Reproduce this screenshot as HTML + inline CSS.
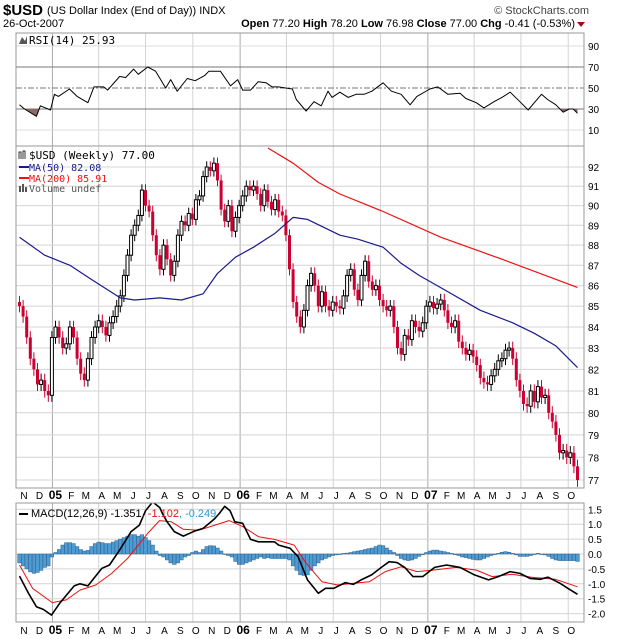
<!DOCTYPE html>
<html><head><meta charset="utf-8"><style>
html,body{margin:0;padding:0;background:#fff;}
svg{display:block;font-family:"Liberation Sans",sans-serif;}
</style></head><body>
<svg id="chart" width="620" height="639" xmlns="http://www.w3.org/2000/svg">
<rect width="620" height="639" fill="#fff"/>
<g>
<text x="3" y="15" font-size="15" font-weight="bold">$USD</text>
<text x="47" y="14" font-size="11">(US Dollar Index (End of Day)) INDX</text>
<text x="3" y="27" font-size="11">26-Oct-2007</text>
<text x="575" y="27" font-size="11" text-anchor="end"><tspan font-weight="bold">Open</tspan> 77.20 <tspan font-weight="bold">High</tspan> 78.20 <tspan font-weight="bold">Low</tspan> 76.98 <tspan font-weight="bold">Close</tspan> 77.00 <tspan font-weight="bold">Chg</tspan> -0.41 (-0.53%)</text>
<path d="M577 22 L585 22 L581 27 Z" fill="#b00020"/>
<text x="589" y="14" font-size="11" text-anchor="end" fill="#444">© StockCharts.com</text>
</g>
<g id="rsi"></g>
<g id="main"></g>
<g id="macd"></g>
</svg>
<script>
// ---- data ----
const closes = [85,84.5,83.5,82.5,82,81.3,81.5,81,80.8,
83.5,84,83.5,83, 83.2,84,83.5,82.5, 81.8,81.5,82.5,83.5,84, 84.3,84,83.6,84.2, 84.5,85,85.5,86.5,
87.5,88.5,89,89.5,90.8, 90,89.7,88.5,87.5, 86.8,88,87.3,86.5, 87.2,88.5,89.2,89,89.6,
89.3,90.3,90.5,91.5, 92,91.8,92.2,91.3, 89.8,89.2,90,88.7,89.4,
90,90.5,91,90.8, 91,90.6,90,90.8, 90.2,89.8,90.3,89.7,89.5, 88.5,86.8,85.2,84.5, 84,84.8,86,86.6,
86,85,85.7,85, 84.8,85.2,85,84.9,85.5, 86.5,86.8,85.8,85.3, 86.5,87.2,86.2,85.8, 86,85.3,85,84.8,85,
84,83,82.7,83.6, 83.4,84.3,84,83.8,84.2,
85,85.2,84.9,85.1, 85.3,84.8,84.2,84, 84.3,83.3,83,82.7,82.9, 82.6,82.2,81.6,81.4, 81.3,81.7,82,82.4,
82.5,82.9,83,82.5,81.5, 81,80.4,80.3,81, 80.5,81.2,80.7,80.8, 80,79.6,79,78.2, 78.3,78,78.2,77.6,77.0];
const firstOpen = 85.2;
const ma50Weeks = [0,7,14,20,28,32,39,45,51,55,60,65,71,76,80,89,94,101,106,111,117,128,137,143,149,155];
const ma50Values = [88.4,87.5,87.0,86.3,85.4,85.3,85.4,85.3,85.6,86.6,87.4,87.9,88.6,89.4,89.3,88.5,88.3,87.9,87.1,86.5,85.9,84.8,84.2,83.7,83.1,82.08];
const ma200Weeks = [69,76,83,89,101,117,134,155];
const ma200Values = [93.0,92.2,91.2,90.6,89.7,88.4,87.3,85.91];
const rsiWeeks = [0,1.4,4.7,5.8,8.6,9.7,10.8,13.9,16,19,20.7,23.4,24.5,27.8,29.5,31.7,33,35.6,37.8,40.6,42,43.8,46.6,48.8,51.5,52.6,55.8,58.6,60.6,62,64.2,66.3,68.5,70.2,71.9,75.8,76.9,79.6,81.8,83.8,85.7,86.8,89,91.3,93.5,95.7,97.9,101,103.3,106,108.5,110.4,114,116.2,119,122.4,124,126.9,129,131.8,134,136.3,139,141.3,143,145,146.7,149,151,152.7,153.8,155];
const rsiValues = [34,30,23,33,29,44,42,49,42,36,51,51,48,61,60,68,63,70,66,50,58,47,59,57,62,66,66,52,58,48,48,56,55,51,51,49,39,28,37,33,47,41,46,41,44,44,47,55,47,44,34,42,49,51,44,45,40,36,31,37,41,46,37,29,36,44,39,34,27,30,30,25.93];
const macdWeeks = [0,2.5,4.7,6.6,8.9,11.3,15.2,16.8,19,22.9,25,27.8,31,33.3,35,37,39,39.7,41,43,45.5,48.8,51,54,55.5,57,58.5,59.8,62,64.2,66.4,70.8,72,75.2,77.4,80,83,85,87.3,90.5,92.7,94.9,97.8,100.5,102.7,104.9,107,109.3,112,115.3,118.6,122.4,126.4,130.3,133,136.3,139,141.8,144.6,146.8,150.1,152.3,155];
const macdValues = [-0.74,-1.32,-1.77,-1.86,-2.05,-1.63,-1.07,-1.0,-1.07,-0.48,-0.37,0.13,0.75,0.97,1.45,1.75,1.55,1.36,1.08,0.75,0.6,0.78,0.86,1.16,1.36,1.6,1.45,1.08,1.03,0.49,0.41,0.41,0.30,0.19,-0.09,-0.87,-1.32,-1.15,-1.15,-0.96,-1.02,-0.87,-0.7,-0.45,-0.26,-0.29,-0.45,-0.76,-0.76,-0.45,-0.37,-0.45,-0.7,-0.87,-0.76,-0.59,-0.65,-0.82,-0.85,-0.78,-0.98,-1.15,-1.351];
const signalWeeks = [0,3.6,9.1,13,16.8,21.2,25.6,30,35.6,38.9,42.2,45.5,49.9,54.3,58.2,62,66.4,70.8,76.3,79.6,84,88.4,92.8,97.2,101.6,106,110.4,114.8,121.3,126.9,131.3,136.8,142.3,148.9,155];
const signalValues = [-0.37,-1.15,-1.63,-1.54,-1.21,-1.04,-0.65,-0.15,0.69,1.12,1.08,0.83,0.8,0.97,1.12,0.92,0.58,0.49,0.3,-0.31,-0.93,-1.04,-0.98,-0.93,-0.59,-0.43,-0.59,-0.54,-0.45,-0.54,-0.76,-0.68,-0.78,-0.85,-1.102];
const histValues = [-0.3,-0.4,-0.5,-0.6,-0.65,-0.62,-0.55,-0.45,-0.4,-0.1,
0.05,0.15,0.3,0.38, 0.38,0.35,0.25,0.15,0.1, 0.12,0.25,0.35,0.4,0.38, 0.35,0.35,0.4,0.45, 0.5,0.55,0.6,0.65,
0.65,0.6,0.65,0.55, 0.45,0.3,0.1, -0.05,-0.1,-0.2,-0.3,-0.35, -0.3,-0.2,-0.1,-0.05, 0.05,0.1,0.05,
0.15,0.25,0.28,0.27,0.2, 0.1,0.0,-0.05,-0.1, -0.25,-0.35,-0.35,-0.3,-0.25, -0.2,-0.15,-0.1,-0.15,-0.12,
-0.15,-0.15,-0.15,-0.15,-0.15, -0.2,-0.4,-0.55,-0.7, -0.72,-0.7,-0.55,-0.4, -0.3,-0.2,-0.15,-0.1,-0.05,
-0.03,0.0,0.02,0.03, 0.05,0.08,0.1,0.12,0.15, 0.18,0.2,0.25,0.3, 0.28,0.2,0.12,0.05, -0.05,-0.15,-0.2,-0.22,
-0.2,-0.15,-0.08,-0.02, 0.05,0.1,0.13,0.13,0.1, 0.08,0.05,0.02,-0.02, -0.05,-0.1,-0.12,-0.15,
-0.18,-0.2,-0.2,-0.15, -0.1,-0.05,-0.02,0.02, 0.06,0.08,0.06,0.02,-0.03, -0.08,-0.08,-0.08,-0.05,
0.0,0.02,0.0,-0.03, -0.08,-0.15,-0.2,-0.22, -0.22,-0.22,-0.22,-0.22,-0.249];
const priceTicks = [92,91,90,89,88,87,86,85,84,83,82,81,80,79,78,77];
const rsiTicks = [90,70,50,30,10];
const macdTicks = [1.5,1.0,0.5,0.0,-0.5,-1.0,-1.5,-2.0];
const monthLabels = ["N","D","05","F","M","A","M","J","J","A","S","O","N","D","06","F","M","A","M","J","J","A","S","O","N","D","07","F","M","A","M","J","J","A","S","O"];

// ---- layout ----
const NS = "http://www.w3.org/2000/svg";
const L = 16, R = 584;
const W0 = 19.5, WS = 3.6;
const xw = i => W0 + i * WS;
const startDate = Date.UTC(2004, 9, 29);
const xd = (y, m, d) => W0 + (Date.UTC(y, m, d) - startDate) / 86400000 / 7 * WS;
const RSI = {t: 33, b: 146};
const ry = v => 140.5 - 1.05 * v;
const MAIN = {t: 146, b: 488};
const py = p => 167 + 1758.6 * Math.log(92 / p);
const MAC = {t: 503, b: 622};
const my = v => 554 - 29.8 * v;

function el(tag, attrs, parent, txt) {
  const e = document.createElementNS(NS, tag);
  for (const k in attrs) e.setAttribute(k, attrs[k]);
  if (txt !== undefined) e.textContent = txt;
  parent.appendChild(e);
  return e;
}
const rsiG = document.getElementById('rsi');
const mainG = document.getElementById('main');
const macG = document.getElementById('macd');

const months = [];
for (let k = 0; k < 36; k++) {
  const m = (10 + k) % 12, y = 2004 + Math.floor((10 + k) / 12);
  months.push({x: xd(y, m, 1), m: m});
}

function panelFrame(g, P, name) {
  months.forEach(mo => {
    if (mo.m % 3 === 0) {
      const ln = el('line', {x1: mo.x, x2: mo.x, y1: P.t, y2: P.b, stroke: mo.m === 0 ? '#aaa' : '#d4d4d4', 'stroke-width': 1}, g);
      
      
    }
  });
}
function frameRect(g, P, name) {
  const r = el('rect', {x: L, y: P.t, width: R - L, height: P.b - P.t, fill: 'none', stroke: '#999', 'stroke-width': 1}, g);
  
  
}
function lineThrough(g, weeks, vals, yf, color, w, name) {
  let d = '';
  weeks.forEach((wk, i) => { d += (i ? 'L' : 'M') + xw(wk).toFixed(1) + ' ' + yf(vals[i]).toFixed(1); });
  const p = el('path', {d: d, fill: 'none', stroke: color, 'stroke-width': w, 'stroke-linejoin': 'round'}, g);
  
  
  return p;
}

// ---- RSI panel ----
panelFrame(rsiG, RSI, 'rsi');
[90, 10].forEach(v => {
  const ln = el('line', {x1: L, x2: R, y1: ry(v), y2: ry(v), stroke: '#ddd'}, rsiG);
  
  
});
[70, 30].forEach(v => {
  const ln = el('line', {x1: L, x2: R, y1: ry(v), y2: ry(v), stroke: '#777'}, rsiG);
  
  
});
{
  const ln = el('line', {x1: L, x2: R, y1: ry(50), y2: ry(50), stroke: '#777', 'stroke-dasharray': '6 2 2 2'}, rsiG);
  
  
}
{
  const cp = el('clipPath', {id: 'below30'}, rsiG);
  el('rect', {x: L, y: ry(30), width: R - L, height: 40}, cp);
  let d = 'M' + xw(rsiWeeks[0]) + ' ' + ry(30);
  rsiWeeks.forEach((wk, i) => { d += 'L' + xw(wk).toFixed(1) + ' ' + ry(rsiValues[i]).toFixed(1); });
  d += 'L' + xw(rsiWeeks[rsiWeeks.length - 1]) + ' ' + ry(30) + 'Z';
  const f = el('path', {d: d, fill: '#8a6a6a', 'clip-path': 'url(#below30)'}, rsiG);
  
  
}
lineThrough(rsiG, rsiWeeks, rsiValues, ry, '#000', 1, 'rsi-line');
frameRect(rsiG, RSI, 'rsi');
rsiTicks.forEach(v => {
  const t = el('text', {x: 588, y: ry(v) + 4, 'font-size': 10}, rsiG, String(v));
  
  
});
{
  const t = el('text', {x: 29, y: 44, 'font-size': 11, 'font-family': 'DejaVu Sans Mono, monospace'}, rsiG, 'RSI(14) 25.93');
  
  
  const ic = el('path', {d: 'M19 44 L22 37 L25 41 L27 36 L27 44 Z', fill: '#555'}, rsiG);
  
  
}

// ---- Main panel ----
panelFrame(mainG, MAIN, 'price');
priceTicks.forEach(p => {
  const ln = el('line', {x1: L, x2: R, y1: py(p), y2: py(p), stroke: '#d4d4d4'}, mainG);
  
  
  const t = el('text', {x: 588, y: py(p) + 4, 'font-size': 10}, mainG, String(p));
  
  
});
const clipM = el('clipPath', {id: 'clipMain'}, mainG);
el('rect', {x: L, y: MAIN.t, width: R - L, height: MAIN.b - MAIN.t}, clipM);
const candlesG = el('g', {'clip-path': 'url(#clipMain)'}, mainG);


closes.forEach((c, i) => {
  const o = i === 0 ? firstOpen : closes[i - 1];
  const hi = Math.max(o, c) + 0.3, lo = Math.min(o, c) - 0.3;
  const x = xw(i);
  const up = c >= o;
  const col = up ? '#000' : '#cc0033';
  const wick = el('line', {x1: x, x2: x, y1: py(hi), y2: py(lo), stroke: col, 'stroke-width': 1}, candlesG);
  
  
  const yTop = py(Math.max(o, c)), yBot = py(Math.min(o, c));
  const body = el('rect', {x: x - 1.5, y: yTop, width: 3, height: Math.max(1, yBot - yTop), fill: up ? '#fff' : '#cc0033', stroke: col, 'stroke-width': up ? 1 : 0}, candlesG);
  
  
});
lineThrough(candlesG, ma50Weeks, ma50Values, py, '#1a1a8c', 1.2, 'ma50-line');
lineThrough(candlesG, ma200Weeks, ma200Values, py, '#ee1111', 1.2, 'ma200-line');
frameRect(mainG, MAIN, 'price');
{
  const lg = el('g', {'font-size': 11, 'font-family': 'DejaVu Sans Mono, monospace'}, mainG);
  
  
  const a = el('text', {x: 29, y: 159}, lg, '$USD (Weekly) 77.00');
  
  
  const ic = el('path', {d: 'M19 159 L19 152 L21 152 L21 159 M23 159 L23 151 L25 151 L25 159', stroke: '#333', fill: 'none'}, lg);
  
  
  const l1 = el('line', {x1: 19, x2: 29, y1: 167, y2: 167, stroke: '#1a1a8c', 'stroke-width': 2}, lg);
  
  
  const b = el('text', {x: 29, y: 171, fill: '#1a1a8c', 'font-size': 10}, lg, 'MA(50) 82.08');
  
  
  const l2 = el('line', {x1: 19, x2: 29, y1: 178, y2: 178, stroke: '#ee1111', 'stroke-width': 2}, lg);
  
  
  const c = el('text', {x: 29, y: 182, fill: '#ee1111', 'font-size': 10}, lg, 'MA(200) 85.91');
  
  
  const d = el('text', {x: 29, y: 192, fill: '#555', 'font-size': 10}, lg, 'Volume undef');
  
  
  const ic2 = el('path', {d: 'M19 192 L19 186 L21 186 L21 192 M22 192 L22 184 L24 184 L24 192 M25 192 L25 187 L27 187 L27 192', fill: '#555'}, lg);
  
  
}

function monthAxis(y, name) {
  months.forEach((mo, k) => {
    const lab = monthLabels[k];
    const isYear = /\d/.test(lab);
    const t = el('text', {x: mo.x + 3, y: y, 'font-size': isYear ? 12 : 10, 'font-weight': isYear ? 'bold' : 'normal', 'text-anchor': 'middle'}, document.getElementById('chart'), lab);
    
    
  });
}
monthAxis(499, 'month-label-top');
monthAxis(634, 'month-label-bottom');

// ---- MACD panel ----
panelFrame(macG, MAC, 'macd');
macdTicks.forEach(v => {
  const ln = el('line', {x1: L, x2: R, y1: my(v), y2: my(v), stroke: '#d4d4d4'}, macG);
  
  
  const t = el('text', {x: 588, y: my(v) + 4, 'font-size': 10}, macG, v.toFixed(1));
  
  
});
const clipC = el('clipPath', {id: 'clipMacd'}, macG);
el('rect', {x: L, y: MAC.t, width: R - L, height: MAC.b - MAC.t}, clipC);
const macInner = el('g', {'clip-path': 'url(#clipMacd)'}, macG);
histValues.forEach((v, i) => {
  const y0 = my(0), y1 = my(v);
  const b = el('rect', {x: xw(i) - 1.8, y: Math.min(y0, y1), width: 3.6, height: Math.max(0.5, Math.abs(y1 - y0)), fill: '#4d9bd0', stroke: '#2c5f8f', 'stroke-width': 0.5}, macInner);
  
  
});
lineThrough(macInner, signalWeeks, signalValues, my, '#ee1111', 1, 'macd-signal-line');
lineThrough(macInner, macdWeeks, macdValues, my, '#000', 1.6, 'macd-line');
frameRect(macG, MAC, 'macd');
{
  const sw = el('line', {x1: 19, x2: 28, y1: 514, y2: 514, stroke: '#000', 'stroke-width': 2}, macG);
  
  
  const t = el('text', {x: 31, y: 517, 'font-size': 11}, macG);
  
  
  el('tspan', {}, t, 'MACD(12,26,9) -1.351');
  el('tspan', {fill: '#ee1111'}, t, ', -1.102');
  el('tspan', {fill: '#3399cc'}, t, ', -0.249');
}
</script>
</body></html>
